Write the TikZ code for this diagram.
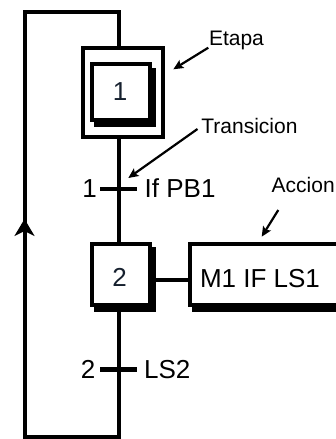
\documentclass[tikz,border=0pt]{standalone}
\usepackage{fontspec}
\setmainfont{Liberation Sans}
\usetikzlibrary{arrows.meta}
\definecolor{stepnum}{HTML}{16202E}

\begin{document}
\begin{tikzpicture}[x=1pt, y=-1pt,
  flow/.style={line width=4pt, line join=miter},
  boxline/.style={line width=3.6pt},
  stepbox/.style={draw, boxline, fill=white, inner sep=0pt,
    preaction={draw=black, fill=black, boxline,
      transform canvas={shift={(4pt,-5.5pt)}}}},
  framebox/.style={draw, boxline, inner sep=0pt},
  tickbar/.style={fill=black, inner sep=0pt, minimum width=36.7pt, minimum height=4.8pt},
  big/.style={font=\fontsize{26}{30}\selectfont, inner sep=0pt},
  lbl/.style={font=\fontsize{21}{25}\selectfont, inner sep=0pt},
  pointer/.style={line width=2.2pt, -{Stealth[length=10pt,width=9pt,inset=2pt]}}
]
\useasboundingbox (0,0) rectangle (336,439);

% column of the sequence and corners of the return loop
\coordinate (col) at (118.7,0);
\coordinate (tl) at (24.5,12);
\coordinate (tr) at (118.7,12);
\coordinate (bl) at (24.5,436.5);
\coordinate (br) at (118.7,436.5);
\coordinate (upbase) at (24.5,238);
\coordinate (uptip) at (24.5,219);

% steps and action
\node[framebox, minimum width=80pt, minimum height=89pt] (s1o) at (123,92.5) {};
\node[stepbox, minimum width=57.7pt, minimum height=56pt] (s1) at (120.9,91.8) {};
\node[stepbox, minimum width=58pt, minimum height=61.3pt] (s2) at (121,274.35) {};
\node[stepbox, minimum width=160pt, minimum height=61.3pt, anchor=west] (act) at (188,274.35) {};

\node[big, text=stepnum] (s1num) at (120,91.5) {1};
\node[big, text=stepnum] (s2num) at (119.5,277.5) {2};
\node[big, anchor=west] (acttxt) at (199.8,278.3) {M1 IF LS1};

% links of the sequence
\draw[flow] (s1o.south -| col) -- (s2.north -| col);
\draw[flow] (s2.south -| col) -- (br) -- (bl) -- (tl) -- (tr) -- (s1o.north -| col);
\draw[flow, -{Stealth[length=17pt,width=20pt,inset=5pt]}] (upbase) -- (uptip);
\draw[flow] ([yshift=-6pt]s2.east) -- ([yshift=-6pt]act.west);

% transitions
\node[tickbar] (t1) at (118.35,189) {};
\node[tickbar] (t2) at (118.35,369.5) {};
\node[big, anchor=east] (t1num) at (97,188.5) {1};
\node[big, anchor=west] (t1txt) at (144.5,188.5) {If PB1};
\node[big, anchor=east] (t2num) at (95.5,369.5) {2};
\node[big, anchor=west] (t2txt) at (144,369.5) {LS2};

% annotations
\node[lbl, anchor=base west] (etapa) at (208.8,45.7) {Etapa};
\node[lbl, anchor=base west] (trans) at (201.2,133.3) {Transicion};
\node[lbl, anchor=base west] (accion) at (271.5,192.7) {Accion};
\coordinate (etapatip) at (173.3,69.3);
\coordinate (transtip) at (128.3,178);
\coordinate (acciontip) at (261.7,236.7);
\draw[pointer] ([shift={(-0.5,2)}]etapa.base west) -- (etapatip);
\draw[pointer] ([shift={(-3.7,-4.3)}]trans.base west) -- (transtip);
\draw[pointer] ([shift={(6.8,17.3)}]accion.base west) -- (acciontip);
\end{tikzpicture}
\end{document}
